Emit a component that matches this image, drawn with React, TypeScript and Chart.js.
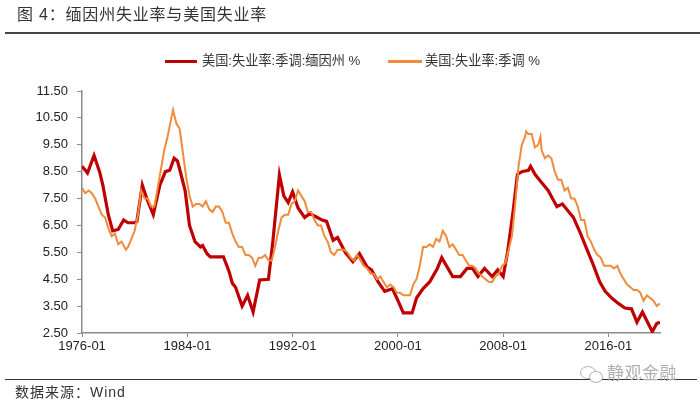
import React, { useEffect, useRef } from "react";
import { Chart, registerables } from "chart.js";

Chart.register(...registerables);

// ---- Data ----
const xTickLabels = ["1976-01", "1984-01", "1992-01", "2000-01", "2008-01", "2016-01"];
const xEndLabel = "2019-12";
const yTicks = [2.5, 3.5, 4.5, 5.5, 6.5, 7.5, 8.5, 9.5, 10.5, 11.5];

const maineLabel = "美国:失业率:季调:缅因州 %";
const usLabel = "美国:失业率:季调 %";

const maineDates = [
  "1976-01", "1976-06", "1976-12", "1977-05", "1977-08", "1978-01", "1978-05", "1978-10",
  "1979-03", "1979-07", "1980-01", "1980-03", "1980-08", "1980-12", "1981-06", "1981-12",
  "1982-05", "1982-09", "1983-01", "1983-04", "1983-06", "1983-11", "1984-03", "1984-08",
  "1985-01", "1985-03", "1985-07", "1985-10", "1986-10", "1987-03", "1987-06", "1987-09",
  "1988-03", "1988-08", "1989-01", "1989-07", "1990-03", "1990-07", "1991-01", "1991-05",
  "1991-09", "1992-01", "1992-06", "1992-12", "1993-05", "1993-09", "1994-04", "1994-08",
  "1995-02", "1995-06", "1996-01", "1996-08", "1997-02", "1997-09", "1998-01", "1998-07",
  "1999-01", "1999-08", "1999-12", "2000-06", "2001-02", "2001-06", "2001-12", "2002-06",
  "2003-01", "2003-05", "2003-10", "2004-03", "2004-10", "2005-04", "2005-09", "2006-02",
  "2006-08", "2007-03", "2007-08", "2008-01", "2008-05", "2008-10", "2009-02", "2009-06",
  "2009-12", "2010-02", "2010-06", "2010-12", "2011-06", "2011-10", "2012-02", "2012-07",
  "2012-12", "2013-05", "2013-11", "2014-05", "2014-11", "2015-05", "2015-10", "2016-04",
  "2016-10", "2017-04", "2017-10", "2018-03", "2018-08", "2019-01", "2019-05", "2019-09",
  "2019-12",
];
const maineValues = [
  8.7, 8.45, 9.1, 8.5, 8.0, 6.9, 6.3, 6.35,
  6.7, 6.6, 6.6, 6.65, 8.0, 7.5, 6.9, 8.0,
  8.5, 8.55, 9.0, 8.9, 8.6, 7.8, 6.5, 5.9,
  5.7, 5.75, 5.45, 5.33, 5.33, 4.8, 4.36, 4.2,
  3.5, 3.9, 3.28, 4.47, 4.5, 5.9, 8.38, 7.6,
  7.35, 7.75, 7.15, 6.8, 6.95, 6.85, 6.7, 6.65,
  5.95, 6.05, 5.5, 5.15, 5.45, 4.95, 4.85, 4.4,
  4.05, 4.15, 3.8, 3.25, 3.25, 3.8, 4.15, 4.4,
  4.9, 5.3, 4.95, 4.6, 4.6, 4.9, 4.9, 4.6,
  4.9, 4.6, 4.85, 4.6, 5.5, 7.0, 8.4, 8.5,
  8.55, 8.7, 8.4, 8.1, 7.8, 7.5, 7.2, 7.3,
  7.05, 6.8, 6.25, 5.65, 5.05, 4.4, 4.05, 3.8,
  3.6, 3.43, 3.4, 2.9, 3.28, 2.87, 2.55, 2.85,
  2.9,
];

const usDates = [
  "1976-01", "1976-04", "1976-07", "1976-10", "1977-01", "1977-04", "1977-07", "1977-10",
  "1978-01", "1978-04", "1978-07", "1978-10", "1979-01", "1979-05", "1979-07", "1979-10",
  "1980-01", "1980-04", "1980-07", "1980-10", "1981-01", "1981-04", "1981-07", "1981-10",
  "1982-01", "1982-04", "1982-07", "1982-10", "1982-12", "1983-03", "1983-06", "1983-09",
  "1983-12", "1984-03", "1984-06", "1984-09", "1984-12", "1985-03", "1985-06", "1985-09",
  "1985-12", "1986-03", "1986-06", "1986-09", "1986-12", "1987-03", "1987-06", "1987-09",
  "1987-12", "1988-03", "1988-06", "1988-09", "1988-12", "1989-03", "1989-06", "1989-09",
  "1989-12", "1990-03", "1990-06", "1990-09", "1990-12", "1991-03", "1991-06", "1991-09",
  "1991-12", "1992-03", "1992-06", "1992-09", "1992-12", "1993-03", "1993-06", "1993-09",
  "1993-12", "1994-03", "1994-06", "1994-09", "1994-12", "1995-03", "1995-06", "1995-09",
  "1995-12", "1996-03", "1996-06", "1996-09", "1996-12", "1997-03", "1997-06", "1997-09",
  "1997-12", "1998-03", "1998-06", "1998-09", "1998-12", "1999-03", "1999-06", "1999-09",
  "1999-12", "2000-03", "2000-06", "2000-09", "2000-12", "2001-03", "2001-06", "2001-09",
  "2001-12", "2002-03", "2002-06", "2002-09", "2002-12", "2003-03", "2003-06", "2003-09",
  "2003-12", "2004-03", "2004-06", "2004-09", "2004-12", "2005-03", "2005-06", "2005-09",
  "2005-12", "2006-03", "2006-06", "2006-09", "2006-12", "2007-03", "2007-06", "2007-09",
  "2007-12", "2008-03", "2008-06", "2008-09", "2008-12", "2009-03", "2009-06", "2009-09",
  "2009-10", "2009-12", "2010-03", "2010-06", "2010-09", "2010-11", "2010-12", "2011-03",
  "2011-06", "2011-09", "2011-12", "2012-03", "2012-06", "2012-09", "2012-12", "2013-03",
  "2013-06", "2013-09", "2013-12", "2014-03", "2014-06", "2014-09", "2014-12", "2015-03",
  "2015-06", "2015-09", "2015-12", "2016-03", "2016-06", "2016-09", "2016-12", "2017-03",
  "2017-06", "2017-09", "2017-12", "2018-03", "2018-06", "2018-09", "2018-12", "2019-03",
  "2019-06", "2019-09", "2019-12",
];
const usValues = [
  7.9, 7.7, 7.8, 7.7, 7.5, 7.2, 6.9, 6.8,
  6.4, 6.1, 6.2, 5.8, 5.9, 5.6, 5.7, 6.0,
  6.3, 6.9, 7.8, 7.5, 7.5, 7.2, 7.2, 7.9,
  8.6, 9.3, 9.8, 10.4, 10.8, 10.3, 10.1, 9.2,
  8.3, 7.6, 7.2, 7.3, 7.3, 7.2, 7.4, 7.1,
  7.0, 7.2, 7.2, 7.0, 6.6, 6.6, 6.2, 5.9,
  5.7, 5.7, 5.4, 5.4, 5.3, 5.0, 5.3, 5.3,
  5.4, 5.2, 5.2, 5.7, 6.3, 6.8, 6.9, 6.9,
  7.3, 7.4, 7.8, 7.6, 7.4, 7.0, 7.0, 6.7,
  6.5, 6.5, 6.1, 5.9, 5.5, 5.4, 5.6, 5.6,
  5.6, 5.5, 5.3, 5.2, 5.4, 5.2, 5.0, 4.9,
  4.7, 4.7, 4.5, 4.6, 4.4, 4.2, 4.3, 4.2,
  4.0, 4.0, 3.9, 3.9, 3.9, 4.3, 4.5, 5.0,
  5.7, 5.7, 5.8, 5.7, 6.0, 5.9, 6.3, 6.1,
  5.7, 5.8, 5.6, 5.4, 5.4, 5.2, 5.0, 5.0,
  4.9, 4.7, 4.6, 4.5, 4.4, 4.4, 4.6, 4.7,
  5.0, 5.1, 5.6, 6.1, 7.3, 8.7, 9.5, 9.8,
  10.0, 9.9, 9.9, 9.4, 9.5, 9.8, 9.3, 9.0,
  9.1, 9.0, 8.5, 8.2, 8.2, 7.8, 7.9, 7.5,
  7.5, 7.2, 6.7, 6.7, 6.1, 5.9, 5.6, 5.4,
  5.3, 5.0, 5.0, 5.0, 4.9, 5.0, 4.7, 4.5,
  4.3, 4.2, 4.1, 4.1, 4.0, 3.7, 3.9, 3.8,
  3.7, 3.5, 3.6,
];

// ---- Helpers ----
const START_YEAR = 1976;
const toIdx = (label: string) => {
  const [y, m] = label.split("-").map(Number);
  return (y - START_YEAR) * 12 + (m - 1);
};
const toLabel = (idx: number) => {
  const y = START_YEAR + Math.floor(idx / 12);
  const m = (idx % 12) + 1;
  return `${y}-${m < 10 ? "0" + m : m}`;
};

const RED = "#C00000";
const ORANGE = "#F08B3C";
const AXIS = "#8a8a8a";
const FONT = '"Liberation Sans", Arial, "Noto Sans CJK SC", sans-serif';

export default function App() {
  const canvasRef = useRef<HTMLCanvasElement | null>(null);

  useEffect(() => {
    if (!canvasRef.current) return;
    const chart = new Chart(canvasRef.current, {
      type: "line",
      data: {
        datasets: [
          {
            label: maineLabel,
            data: maineDates.map((d, i) => ({ x: toIdx(d), y: maineValues[i] })),
            borderColor: RED,
            borderWidth: 3.2,
            pointRadius: 0,
            tension: 0,
            order: 1,
          },
          {
            label: usLabel,
            data: usDates.map((d, i) => ({ x: toIdx(d), y: usValues[i] })),
            borderColor: ORANGE,
            borderWidth: 2,
            pointRadius: 0,
            tension: 0,
            order: 0,
          },
        ],
      },
      options: {
        animation: false,
        responsive: false,
        devicePixelRatio: 1,
        layout: { padding: { top: 91, right: 40, left: 0, bottom: 0 } },
        plugins: { legend: { display: false }, tooltip: { enabled: false } },
        scales: {
          x: {
            type: "linear",
            min: toIdx(xTickLabels[0]),
            max: toIdx(xEndLabel),
            afterBuildTicks: (scale: any) => {
              scale.ticks = xTickLabels.map((l) => ({ value: toIdx(l) }));
            },
            afterFit: (scale: any) => {
              scale.height = 73;
            },
            ticks: {
              autoSkip: false,
              maxRotation: 0,
              padding: 2,
              color: "#222",
              font: { family: FONT, size: 13 },
              callback: (v: any) => toLabel(Number(v)),
            },
            grid: { display: true, drawOnChartArea: false, drawTicks: true, tickLength: 4, color: AXIS },
            border: { display: true, color: AXIS, width: 1.5 },
          },
          y: {
            min: yTicks[0],
            max: yTicks[yTicks.length - 1],
            afterBuildTicks: (scale: any) => {
              scale.ticks = yTicks.map((v) => ({ value: v }));
            },
            afterFit: (scale: any) => {
              scale.width = 82;
            },
            ticks: {
              padding: 9,
              color: "#222",
              font: { family: FONT, size: 13 },
              callback: (v: any) => Number(v).toFixed(2),
            },
            grid: { display: true, drawOnChartArea: false, drawTicks: true, tickLength: 5, color: AXIS },
            border: { display: true, color: AXIS, width: 1.5 },
          },
        },
      },
    });
    return () => chart.destroy();
  }, []);

  const abs = (s: React.CSSProperties): React.CSSProperties => ({ position: "absolute", ...s });

  return (
    <div style={{ position: "fixed", left: 0, top: 0, width: 700, height: 406, background: "#fff", overflow: "hidden" }}>
      <canvas ref={canvasRef} width={700} height={406} style={{ position: "absolute", left: 0, top: 0, width: 700, height: 406 }} />
      {/* Title */}
      <div style={abs({ left: 17, top: 4, fontFamily: FONT, fontSize: 16, letterSpacing: 0.8, color: "#333", lineHeight: "22px", whiteSpace: "nowrap" })}>
        图 4：缅因州失业率与美国失业率
      </div>
      <div style={abs({ left: 5, top: 32, width: 695, height: 2, background: "#444" })} />
      {/* Legend */}
      <div style={abs({ left: 165, top: 59.5, width: 32, height: 3, background: RED })} />
      <div style={abs({ left: 202, top: 51, fontFamily: FONT, fontSize: 13.2, color: "#333", lineHeight: "20px", whiteSpace: "nowrap" })}>
        {maineLabel}
      </div>
      <div style={abs({ left: 388, top: 60, width: 34, height: 2.5, background: ORANGE })} />
      <div style={abs({ left: 425, top: 51, fontFamily: FONT, fontSize: 13.2, color: "#333", lineHeight: "20px", whiteSpace: "nowrap" })}>
        {usLabel}
      </div>
      {/* Footer */}
      <div style={abs({ left: 5, top: 378.5, width: 692, height: 1.5, background: "#333" })} />
      <div style={abs({ left: 15, top: 382, fontFamily: FONT, fontSize: 14, letterSpacing: 1, color: "#333", lineHeight: "20px", whiteSpace: "nowrap" })}>
        数据来源：Wind
      </div>
      {/* Watermark */}
      <div style={abs({ left: 580, top: 366, width: 14, height: 11, borderRadius: "50%", border: "1.5px solid #b5b5b5", background: "#fff" })} />
      <div style={abs({ left: 589, top: 371, width: 12, height: 10, borderRadius: "50%", border: "1.5px solid #b5b5b5", background: "#fff" })} />
      <div style={abs({ left: 607, top: 363, fontFamily: FONT, fontSize: 17, color: "#b0b0b0", lineHeight: "22px", whiteSpace: "nowrap", letterSpacing: 0.5 })}>
        静观金融
      </div>
    </div>
  );
}
